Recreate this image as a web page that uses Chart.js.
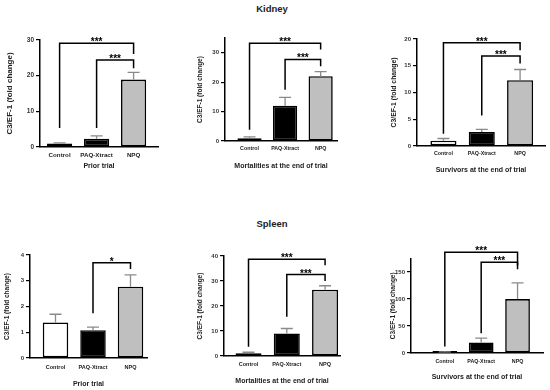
<!DOCTYPE html>
<html>
<head>
<meta charset="utf-8">
<script src="https://cdn.jsdelivr.net/npm/chart.js@4.4.1/dist/chart.umd.min.js"></script>
<style>
  body { margin: 0; width: 550px; height: 390px; background: #fff; position: relative; overflow: hidden; }
  canvas { position: absolute; }
  .organ { position: absolute; font: bold 9.5px "Liberation Sans", Arial, sans-serif; color: #222; transform: translateX(-50%); }
</style>
</head>
<body>
<div class="organ" style="left:272px;top:3px">Kidney</div>
<div class="organ" style="left:272px;top:218px">Spleen</div>
<script>
// Data
const categories = ['Control', 'PAQ-Xtract', 'NPQ'];
const xTitles = ['Prior trial', 'Mortalities at the end of trial', 'Survivors at the end of trial'];
const yTitle = 'C3/EF-1 (fold change)';

const kidneyPrior = [0.95, 2.3, 18.9];
const kidneyPriorSD = [0.2, 0.8, 2.0];
const kidneyMort = [0.9, 12.0, 22.0];
const kidneyMortSD = [0.5, 2.8, 1.6];
const kidneySurv = [1.0, 2.6, 12.3];
const kidneySurvSD = [0.4, 0.5, 2.0];

const spleenPrior = [1.38, 1.08, 2.77];
const spleenPriorSD = [0.32, 0.12, 0.46];
const spleenMort = [1.1, 9.0, 26.5];
const spleenMortSD = [0.4, 2.0, 1.6];
const spleenSurv = [1.5, 19.6, 99.8];
const spleenSurvSD = [0.5, 7.9, 30.2];

// significance brackets: [from, to, level, left foot, right foot, label]
const kidneyPriorSig = [[0, 2, 29.1, 5.3, 26.1, '***'], [1, 2, 24.4, 5.3, 22.1, '***']];
const kidneyMortSig = [[0, 2, 33.2, 3.8, 31.1, '***'], [1, 2, 27.7, 17.4, 25.4, '***']];
const kidneySurvSig = [[0, 2, 19.3, 2.3, 17.9, '***'], [1, 2, 16.8, 5.7, 15.4, '***']];
const spleenPriorSig = [[1, 2, 3.70, 1.74, 3.46, '*']];
const spleenMortSig = [[0, 2, 38.7, 3.7, 36.3, '***'], [1, 2, 32.6, 15.7, 30.0, '***']];
const spleenSurvSig = [[0, 2, 186.8, 12.2, 162, '***'], [1, 2, 168, 36.7, 155, '***']];

const yMax = [30, 35, 20, 4, 40, 175];
const yStep = [10, 10, 5, 1, 10, 50];

const family = '"Liberation Sans", Arial, sans-serif';
const barColors = ['#ffffff', '#000000', '#bfbfbf'];

// layout of each panel on the page (area = left, top, right, bottom of the plot)
const panels = [
  { values: kidneyPrior, sd: kidneyPriorSD, sig: kidneyPriorSig, max: yMax[0], step: yStep[0], xTitle: xTitles[0],
    area: [40, 40, 158, 147], titleX: 10, xMin: -0.53, xMax: 2.66, labelDy: 8, titleY: 166, fs: { tick: 6.5, cat: 6.2, yTitle: 8 } },
  { values: kidneyMort, sd: kidneyMortSD, sig: kidneyMortSig, max: yMax[1], step: yStep[1], xTitle: xTitles[1],
    area: [225, 38, 337, 141], titleX: 200, xMin: -0.69, xMax: 2.46, labelDy: 8, titleY: 166, fs: { tick: 6, cat: 5.3, yTitle: 6.5 } },
  { values: kidneySurv, sd: kidneySurvSD, sig: kidneySurvSig, max: yMax[2], step: yStep[2], xTitle: xTitles[2],
    area: [417, 39, 545, 146], titleX: 394, xMin: -0.69, xMax: 2.65, labelDy: 8, titleY: 170, fs: { tick: 6, cat: 5.3, yTitle: 6.8 } },
  { values: spleenPrior, sd: spleenPriorSD, sig: spleenPriorSig, max: yMax[3], step: yStep[3], xTitle: xTitles[0],
    area: [30, 255, 147, 358], titleX: 7, xMin: -0.68, xMax: 2.44, labelDy: 9, titleY: 384, fs: { tick: 6, cat: 5.5, yTitle: 6.5 } },
  { values: spleenMort, sd: spleenMortSD, sig: spleenMortSig, max: yMax[4], step: yStep[4], xTitle: xTitles[1],
    area: [224, 256, 340, 356], titleX: 200, xMin: -0.64, xMax: 2.39, labelDy: 8, titleY: 381, fs: { tick: 6, cat: 5.5, yTitle: 6.5 } },
  { values: spleenSurv, sd: spleenSurvSD, sig: spleenSurvSig, max: yMax[5], step: yStep[5], xTitle: xTitles[2],
    area: [411, 258.5, 543, 353], titleX: 393, xMin: -0.93, xMax: 2.7, labelDy: 9, titleY: 377, fs: { tick: 6, cat: 5.3, yTitle: 6.5 } }
];

// error bars (upper only) and significance brackets
function drawExtras(chart, p) {
  const ctx = chart.ctx;
  const x = chart.scales.x, y = chart.scales.y;
  ctx.save();
  ctx.strokeStyle = '#8a8a8a';
  ctx.lineWidth = 1.3;
  chart.getDatasetMeta(0).data.forEach((bar, i) => {
    const top = y.getPixelForValue(p.values[i] + p.sd[i]);
    ctx.beginPath();
    ctx.moveTo(bar.x, bar.y);
    ctx.lineTo(bar.x, top);
    ctx.moveTo(bar.x - 6, top);
    ctx.lineTo(bar.x + 6, top);
    ctx.stroke();
  });
  ctx.strokeStyle = '#000';
  ctx.fillStyle = '#000';
  ctx.lineWidth = 1.5;
  ctx.font = 'bold 10px ' + family;
  ctx.textAlign = 'center';
  ctx.textBaseline = 'alphabetic';
  p.sig.forEach(([a, b, level, footA, footB, label]) => {
    const xa = x.getPixelForValue(a), xb = x.getPixelForValue(b);
    const yl = y.getPixelForValue(level);
    ctx.beginPath();
    ctx.moveTo(xa, y.getPixelForValue(footA));
    ctx.lineTo(xa, yl);
    ctx.lineTo(xb, yl);
    ctx.lineTo(xb, y.getPixelForValue(footB));
    ctx.stroke();
    ctx.fillText(label, (xa + xb) / 2, yl + 2);
  });
  ctx.restore();
}

function buildPanel(p) {
  const [aL, aT, aR, aB] = p.area;
  const cL = Math.round(p.titleX - 5), cT = Math.round(aT - 40), cR = aR + 4, cB = Math.round(p.titleY + 6);
  const canvas = document.createElement('canvas');
  canvas.width = cR - cL;
  canvas.height = cB - cT;
  canvas.style.left = cL + 'px';
  canvas.style.top = cT + 'px';
  document.body.appendChild(canvas);

  const yw = aL - cL, xh = cB - aB;
  const xTitleLH = 7 * 1.2, yTitleLH = p.fs.yTitle * 1.2;

  new Chart(canvas, {
    type: 'bar',
    data: {
      datasets: [{
        data: p.values.map((v, i) => ({ x: i, y: v })),
        backgroundColor: barColors,
        borderColor: '#000',
        borderWidth: 1.6,
        borderSkipped: false,
        barPercentage: 0.68,
        categoryPercentage: 1,
        minBarLength: 2
      }]
    },
    options: {
      responsive: false,
      animation: false,
      devicePixelRatio: 1,
      layout: { padding: { top: aT - cT, right: cR - aR, left: 0, bottom: 0 } },
      plugins: { legend: { display: false }, tooltip: { enabled: false } },
      scales: {
        x: {
          type: 'linear',
          min: p.xMin,
          max: p.xMax,
          offset: false,
          afterBuildTicks: s => { s.ticks = categories.map((c, i) => ({ value: i })); },
          afterFit: s => { s.height = xh; },
          grid: { display: false, drawTicks: false },
          border: { color: '#000', width: 1.5 },
          ticks: {
            callback: v => categories[v],
            font: { size: p.fs.cat, weight: 'bold', family },
            color: '#222',
            padding: p.labelDy - p.fs.cat * 0.6,
            maxRotation: 0,
            autoSkip: false
          },
          title: {
            display: true,
            text: p.xTitle,
            font: { size: 7, weight: 'bold', family },
            color: '#222',
            padding: { top: 0, bottom: cB - p.titleY - xTitleLH / 2 }
          }
        },
        y: {
          min: 0,
          max: p.max,
          afterBuildTicks: s => { s.ticks = s.ticks.filter(t => t.value % p.step === 0); },
          afterFit: s => { s.width = yw; },
          grid: { drawOnChartArea: false, drawTicks: true, tickLength: 4, color: '#000', lineWidth: 1.2 },
          border: { color: '#000', width: 1.5 },
          ticks: {
            stepSize: p.step,
            font: { size: p.fs.tick, weight: 'bold', family },
            color: '#333',
            padding: 2
          },
          title: {
            display: true,
            text: yTitle,
            font: { size: p.fs.yTitle, weight: 'bold', family },
            color: '#222',
            padding: { top: 5 - yTitleLH / 2, bottom: 0 }
          }
        }
      }
    },
    plugins: [{ id: 'extras', afterDatasetsDraw(chart) { drawExtras(chart, p); } }]
  });
}

panels.forEach(buildPanel);
</script>
</body>
</html>
